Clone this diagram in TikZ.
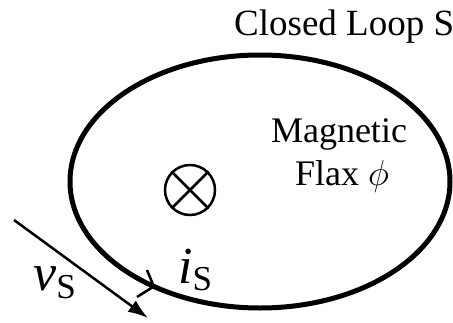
\documentclass[tikz,border=0pt]{standalone}
\usepackage{fix-cm}
\usepackage{fontspec}
\setmainfont{Liberation Serif}
\usetikzlibrary{arrows.meta}
\begin{document}
\begin{tikzpicture}[x=1pt,y=-1pt,
  loopline/.style={line width=5pt},
  thinline/.style={line width=2.5pt},
  lbl/.style={inner sep=0pt, font=\fontsize{36}{40}\selectfont},
  biglbl/.style={inner sep=0pt, font=\fontsize{52}{56}\selectfont}]
\useasboundingbox (0,0) rectangle (453,322);
% title
\node[inner sep=0pt, font=\fontsize{37}{40}\selectfont, anchor=base west] (title) at (234,35) {Closed Loop S};
% closed loop
\draw[loopline] (260,181.5) ellipse [x radius=190, y radius=126.5];
% flux text
\node[lbl, anchor=base] (mag) at (339,142) {Magnetic};
\node[lbl, anchor=base west] (flax) at (295,185) {Flax $\phi$};
% flux symbol
\node[draw, circle, line width=2.5pt, minimum size=50pt, inner sep=0pt] (flux) at (190,190) {};
\draw[thinline] (flux.north east) -- (flux.south west);
\draw[thinline] (flux.north west) -- (flux.south east);
% current arrowhead on loop
\coordinate (itip) at (153.8,286.4);
\coordinate (iarmA) at (147,270);
\coordinate (iarmB) at (137,297);
\draw[thinline] (iarmA) -- (itip) -- (iarmB);
% velocity arrow
\coordinate (vs0) at (14,220);
\coordinate (vs1) at (148,318);
\draw[thinline,-{Latex[length=20pt,width=14pt]}] (vs0) -- (vs1);
% labels
\node[biglbl, anchor=base west] (vlabel) at (33,290) {\textit{v}\raisebox{-8pt}{\fontsize{35}{38}\selectfont S}};
\node[biglbl, anchor=base west] (ilabel) at (178,283) {\textit{i}\raisebox{-7pt}{\fontsize{35}{38}\selectfont S}};
\end{tikzpicture}
\end{document}
